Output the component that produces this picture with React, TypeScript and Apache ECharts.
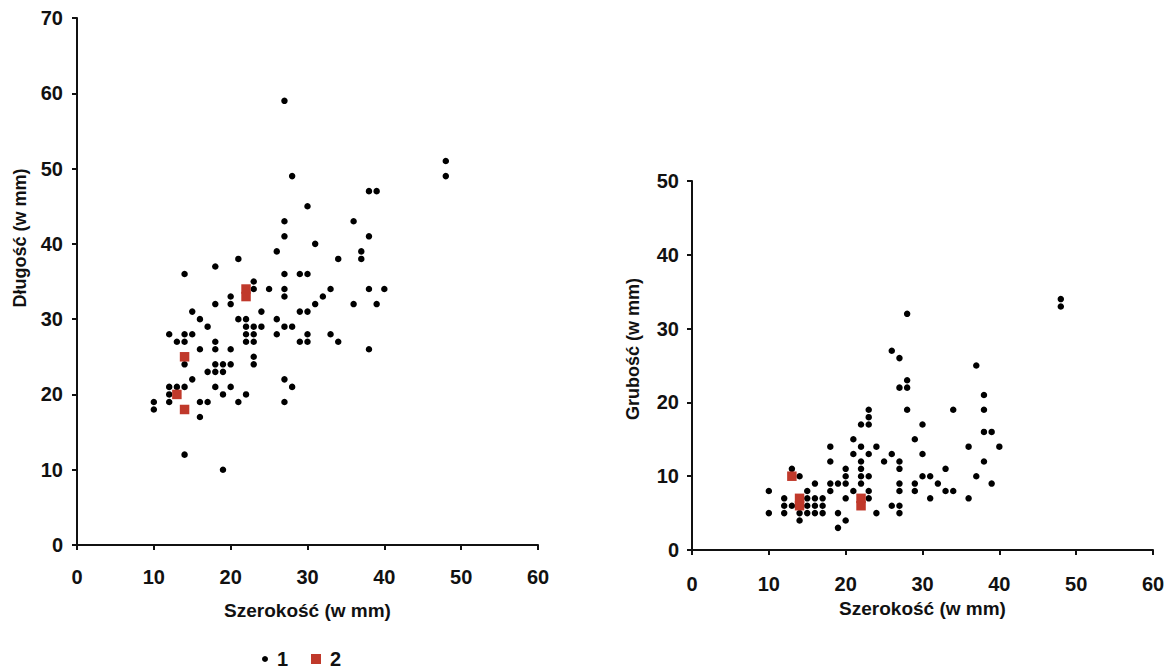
import React, { useEffect, useRef } from "react";
import * as echarts from "echarts";

// Left chart: width (Szerokość) vs length (Długość), group 1 (black) and group 2 (red)
const lengthGroup1: [number, number][] = [
  [27, 59], [28, 49], [30, 45], [27, 43], [27, 41], [31, 40], [26, 39], [21, 38], [18, 37],
  [38, 47], [39, 47], [36, 43], [38, 41], [37, 39], [34, 38], [37, 38],
  [48, 51], [48, 49],
  [27, 36], [29, 36], [30, 36], [23, 35], [23, 34], [25, 34], [27, 34], [27, 33], [33, 34], [38, 34], [40, 34],
  [32, 33], [20, 33], [20, 32], [31, 32], [36, 32], [39, 32], [24, 31], [29, 31], [30, 31], [21, 30], [22, 30],
  [26, 30], [22, 29], [23, 29], [24, 29], [27, 29], [28, 29], [22, 28], [23, 28], [26, 28], [30, 28], [33, 28],
  [22, 27], [23, 27], [29, 27], [30, 27], [34, 27], [38, 26], [20, 26], [23, 25], [23, 24], [20, 24], [20, 21],
  [27, 22], [28, 21], [22, 20], [21, 19], [27, 19],
  [14, 36], [18, 32], [15, 31], [16, 30], [17, 29], [12, 28], [14, 28], [15, 28], [13, 27], [14, 27], [18, 27],
  [16, 26], [18, 26], [14, 24], [18, 24], [19, 24], [17, 23], [18, 23], [19, 23], [15, 22], [12, 21], [13, 21],
  [14, 21], [18, 21], [12, 20], [19, 20], [10, 19], [12, 19], [16, 19], [17, 19], [10, 18], [16, 17], [14, 12],
  [19, 10],
];
const lengthGroup2: [number, number][] = [
  [22, 34], [22, 33], [14, 25], [13, 20], [14, 18],
];

// Right chart: width (Szerokość) vs thickness (Grubość)
const thicknessGroup1: [number, number][] = [
  [28, 32], [26, 27], [27, 26], [28, 23], [27, 22], [28, 22], [28, 19], [29, 15], [23, 19], [23, 18], [22, 17],
  [23, 17], [21, 15], [18, 14], [22, 14], [24, 14], [21, 13], [23, 13], [26, 13], [18, 12], [22, 12], [25, 12],
  [27, 12], [27, 11], [13, 11], [20, 11], [22, 11], [14, 10], [20, 10], [22, 10], [23, 10], [16, 9], [18, 9],
  [19, 9], [20, 9], [22, 9], [27, 9], [29, 9], [10, 8], [15, 8], [18, 8], [21, 8], [23, 8], [27, 8], [29, 8],
  [12, 7], [12, 6], [12, 5], [10, 5], [13, 6], [15, 7], [16, 7], [17, 7], [15, 6], [16, 6], [17, 6], [15, 5],
  [16, 5], [17, 5], [14, 5], [14, 4], [20, 7], [19, 5], [20, 4], [19, 3], [23, 7], [24, 5], [26, 6], [27, 6],
  [27, 5],
  [37, 25], [38, 21], [34, 19], [38, 19], [30, 17], [38, 16], [39, 16], [36, 14], [40, 14], [30, 13], [38, 12],
  [33, 11], [30, 10], [31, 10], [37, 10], [32, 9], [39, 9], [33, 8], [34, 8], [31, 7], [36, 7], [48, 34], [48, 33],
];
const thicknessGroup2: [number, number][] = [
  [13, 10], [14, 7], [14, 6], [22, 7], [22, 6],
];

const seriesNames = ["1", "2"];
const xTitle = "Szerokość (w mm)";
const yTitleLeft = "Długość (w mm)";
const yTitleRight = "Grubość (w mm)";

const FONT = "'Liberation Sans', Arial, Helvetica, sans-serif";
const BLACK = "#000000";
const RED = "#c0392b";

function axisCommon() {
  return {
    axisLine: { show: true, lineStyle: { color: "#111111", width: 2 } },
    axisTick: { show: true, length: 5, lineStyle: { color: "#111111", width: 2 } },
    splitLine: { show: false },
    axisLabel: { color: "#111111", fontFamily: FONT, fontWeight: "bold", fontSize: 20 },
  };
}

export default function App() {
  const ref = useRef<HTMLDivElement>(null);
  useEffect(() => {
    if (!ref.current) return;
    const chart = echarts.init(ref.current, undefined, { renderer: "svg" });
    const c = axisCommon();
    const legendText = { color: "#111111", fontFamily: FONT, fontWeight: "bold", fontSize: 20, lineHeight: 20, padding: [0, 0, 0, 4] };
    chart.setOption({
      animation: false,
      backgroundColor: "#ffffff",
      grid: [
        { left: 77, right: 633, top: 18, bottom: 126 },
        { left: 692, right: 18, top: 181, bottom: 121 },
      ],
      xAxis: [0, 1].map((i) => ({
        type: "value",
        gridIndex: i,
        min: 0,
        max: 60,
        interval: 10,
        ...c,
        axisLabel: { ...c.axisLabel, margin: i === 0 ? 22 : 24 },
        name: xTitle,
        nameLocation: "middle",
        nameGap: i === 0 ? 56 : 47,
        nameTextStyle: { color: "#111111", fontFamily: FONT, fontWeight: "bold", fontSize: 19 },
      })),
      yAxis: [
        { type: "value", gridIndex: 0, min: 0, max: 70, interval: 10, ...c, axisLabel: { ...c.axisLabel, margin: 14 } },
        { type: "value", gridIndex: 1, min: 0, max: 50, interval: 10, ...c, axisLabel: { ...c.axisLabel, margin: 13 } },
      ],
      legend: [
        {
          data: [{ name: "1", icon: "circle" }],
          left: 262,
          top: 649,
          padding: 0,
          itemWidth: 6,
          itemHeight: 6,
          itemGap: 0,
          textStyle: legendText,
        },
        {
          data: [{ name: "2", icon: "rect" }],
          left: 311,
          top: 649,
          padding: 0,
          itemWidth: 10,
          itemHeight: 10,
          itemGap: 0,
          textStyle: legendText,
        },
      ],
      graphic: [
        {
          type: "text",
          x: 20,
          y: 238,
          rotation: Math.PI / 2,
          style: { text: yTitleLeft, fill: "#111111", font: `bold 18px ${FONT}`, align: "center", verticalAlign: "middle" },
        },
        {
          type: "text",
          x: 633,
          y: 349,
          rotation: Math.PI / 2,
          style: { text: yTitleRight, fill: "#111111", font: `bold 18px ${FONT}`, align: "center", verticalAlign: "middle" },
        },
      ],
      series: [
        { name: seriesNames[0], type: "scatter", xAxisIndex: 0, yAxisIndex: 0, data: lengthGroup1, symbol: "circle", symbolSize: 6.5, itemStyle: { color: BLACK, opacity: 1 } },
        { name: seriesNames[1], type: "scatter", xAxisIndex: 0, yAxisIndex: 0, data: lengthGroup2, symbol: "rect", symbolSize: 9.5, itemStyle: { color: RED, opacity: 1 } },
        { name: seriesNames[0], type: "scatter", xAxisIndex: 1, yAxisIndex: 1, data: thicknessGroup1, symbol: "circle", symbolSize: 6.5, itemStyle: { color: BLACK, opacity: 1 } },
        { name: seriesNames[1], type: "scatter", xAxisIndex: 1, yAxisIndex: 1, data: thicknessGroup2, symbol: "rect", symbolSize: 9.5, itemStyle: { color: RED, opacity: 1 } },
      ],
    });
    return () => chart.dispose();
  }, []);
  return (
    <div
      ref={ref}
      style={{ position: "fixed", left: 0, top: 0, width: 1171, height: 671, background: "#fff" }}
    />
  );
}
